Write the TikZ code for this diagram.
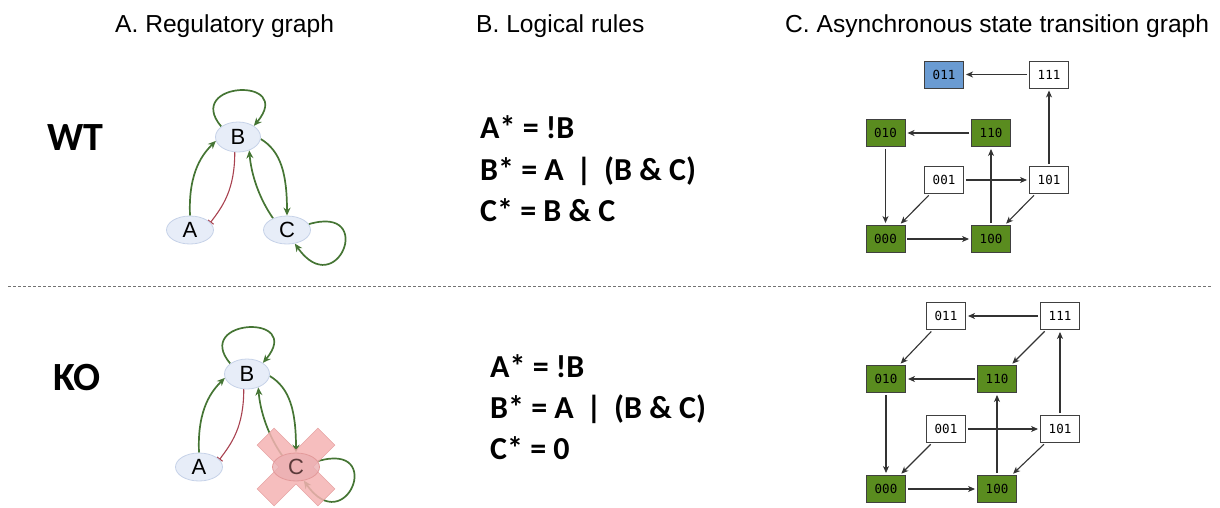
\documentclass[tikz,border=0pt]{standalone}
\usepackage{fontspec}
\setmainfont{Liberation Sans}
\newfontfamily\calfont{Carlito}
\newfontfamily\monof{DejaVu Sans Mono}
\usetikzlibrary{arrows.meta,shapes.geometric}
\pgfdeclarelayer{edgelayer}
\pgfdeclarelayer{crosslayer}
\pgfsetlayers{edgelayer,crosslayer,main}
\definecolor{edgegreen}{HTML}{457534}
\definecolor{inhred}{HTML}{A8414F}
\definecolor{nodefill}{HTML}{E7EDF8}
\definecolor{nodeline}{HTML}{C6D2E8}
\definecolor{stategreen}{HTML}{5A8C1F}
\definecolor{stateblue}{HTML}{6A9BD2}
\definecolor{crosspink}{HTML}{F4B3B3}
\definecolor{crossline}{HTML}{E39A9A}
\definecolor{kofill}{HTML}{EBAFB2}
\definecolor{kotext}{HTML}{5B3A3A}
\tikzset{
  gene/.style={ellipse, draw=nodeline, fill=nodefill, line width=0.8pt, minimum width=47pt, minimum height=28pt, inner sep=0pt, font=\fontsize{22}{22}\selectfont},
  geneB/.style={gene, minimum width=45pt, minimum height=30pt},
  act/.style={draw=edgegreen, line width=1.7pt, -{Stealth[length=8pt,width=7pt]}},
  inh/.style={draw=inhred, line width=1.1pt, -{Bar[width=7pt,line width=1.1pt]}},
  stbox/.style={draw=black!75, line width=0.9pt, minimum width=39pt, minimum height=27pt, inner sep=0pt, font=\monof\fontsize{12.5}{13}\selectfont},
  stoff/.style={stbox, fill=white},
  ston/.style={stbox, fill=stategreen},
  stblue/.style={stbox, fill=stateblue},
  trans/.style={draw=black!80, line width=1.1pt, -{Stealth[length=7pt,width=6pt,inset=2pt]}, shorten <=2pt, shorten >=2pt},
  paneltitle/.style={anchor=base west, inner sep=0pt, font=\fontsize{24.6}{25}\selectfont},
  condlabel/.style={anchor=base west, inner sep=0pt, font=\calfont\bfseries\fontsize{40}{40}\selectfont},
  ruletext/.style={anchor=base west, inner sep=0pt, font=\calfont\bfseries\fontsize{32}{32}\selectfont},
}
\begin{document}
\begin{tikzpicture}[x=1pt,y=-1pt]
\path[use as bounding box] (0,0) rectangle (1220,508);

% titles
\node[paneltitle] (tA) at (115,33) {A. Regulatory graph};
\node[paneltitle] (tB) at (476,33) {B. Logical rules};
\node[paneltitle] (tC) at (785,33) {C. Asynchronous state transition graph};

% condition labels
\node[condlabel] (wt) at (47,150) {WT};
\node[condlabel] (ko) at (53,390) {KO};

% separator
\coordinate (sepL) at (8,286);
\coordinate (sepR) at (1212,286);
\draw[black!55, line width=1pt, dash pattern=on 3pt off 2pt] (sepL) -- (sepR);

% ---------- WT regulatory graph ----------
\begin{scope}[shift={(238,137)}]
  \node[geneB] (wB) at (0,0) {B};
  \node[gene] (wA) at (-48,93) {A};
  \node[gene] (wC) at (49,93) {C};
  \begin{pgfonlayer}{edgelayer}
  \draw[act] (wB.148) .. controls +(-38,-45) and +(42,-50) .. (wB.35);
  \draw[act] (wA.north) .. controls +(-2,-45) and +(-12,12) .. (wB.190);
  \draw[inh] (wB.258) .. controls +(0,38) and +(12,-16) .. (wA.20);
  \draw[act] (wB.355) .. controls +(20,12) and +(0,-42) .. (wC.north);
  \draw[act] (wC.140) .. controls +(-14,-20) and +(2,24) .. (wB.310);
  \draw[act] (wC.15) .. controls +(68,-20) and +(42,60) .. (wC.300);
  \end{pgfonlayer}
\end{scope}

% ---------- KO regulatory graph ----------
\begin{scope}[shift={(247,374)}]
  \node[geneB] (kB) at (0,0) {B};
  \node[gene] (kA) at (-48,93) {A};
  \node[gene, draw=crossline, fill=kofill, fill opacity=0.8, text opacity=1, text=kotext] (kC) at (49,93) {C};
  \begin{pgfonlayer}{edgelayer}
  \draw[act] (kB.148) .. controls +(-38,-45) and +(42,-50) .. (kB.35);
  \draw[act] (kA.north) .. controls +(-2,-45) and +(-12,12) .. (kB.190);
  \draw[inh] (kB.258) .. controls +(0,38) and +(12,-16) .. (kA.20);
  \draw[act] (kB.355) .. controls +(20,12) and +(0,-42) .. (kC.north);
  \draw[act] (kC.140) .. controls +(-14,-20) and +(2,24) .. (kB.310);
  \draw[act] (kC.15) .. controls +(68,-20) and +(42,60) .. (kC.300);
  \end{pgfonlayer}
  \begin{pgfonlayer}{crosslayer}
  \begin{scope}[shift={(kC.center)}, rotate=45]
    \filldraw[fill=crosspink, draw=crossline, line width=0.6pt, opacity=0.85]
      (-12,-43) -- (12,-43) -- (12,-12) -- (43,-12) -- (43,12) -- (12,12) --
      (12,43) -- (-12,43) -- (-12,12) -- (-43,12) -- (-43,-12) -- (-12,-12) -- cycle;
  \end{scope}
  \end{pgfonlayer}
\end{scope}

% ---------- rules ----------
\node[ruletext] (wr1) at (480,139) {A* = !B};
\node[ruletext] (wr2) at (480,180) {B* = A \,|\, (B \& C)};
\node[ruletext] (wr3) at (480,221) {C* = B \& C};
\node[ruletext] (kr1) at (490,377) {A* = !B};
\node[ruletext] (kr2) at (490,418) {B* = A \,|\, (B \& C)};
\node[ruletext] (kr3) at (490,459) {C* = 0};

% ---------- WT state graph ----------
\node[stblue] (w011) at (944,74.5) {011};
\node[stoff]  (w111) at (1049,74.5) {111};
\node[ston]   (w010) at (885.5,133) {010};
\node[ston]   (w110) at (991,133) {110};
\node[stoff]  (w001) at (944,180) {001};
\node[stoff]  (w101) at (1049,180) {101};
\node[ston]   (w000) at (885.5,239) {000};
\node[ston]   (w100) at (991,239) {100};
\draw[trans] (w111) -- (w011);
\draw[trans] (w101) -- (w111);
\draw[trans] (w110) -- (w010);
\draw[trans] (w010) -- (w000);
\draw[trans] (w001) -- (w101);
\draw[trans] (w001) -- (w000);
\draw[trans] (w101) -- (w100);
\draw[trans] (w000) -- (w100);
\draw[trans] (w100) -- (w110);

% ---------- KO state graph ----------
\node[stoff] (k011) at (946,316) {011};
\node[stoff] (k111) at (1060,316) {111};
\node[ston]  (k010) at (886,379) {010};
\node[ston]  (k110) at (997,379) {110};
\node[stoff] (k001) at (946,429) {001};
\node[stoff] (k101) at (1060,429) {101};
\node[ston]  (k000) at (886,489) {000};
\node[ston]  (k100) at (997,489) {100};
\draw[trans] (k111) -- (k011);
\draw[trans] (k011) -- (k010);
\draw[trans] (k111) -- (k110);
\draw[trans] (k110) -- (k010);
\draw[trans] (k010) -- (k000);
\draw[trans] (k001) -- (k101);
\draw[trans] (k001) -- (k000);
\draw[trans] (k101) -- (k111);
\draw[trans] (k101) -- (k100);
\draw[trans] (k000) -- (k100);
\draw[trans] (k100) -- (k110);
\end{tikzpicture}
\end{document}
